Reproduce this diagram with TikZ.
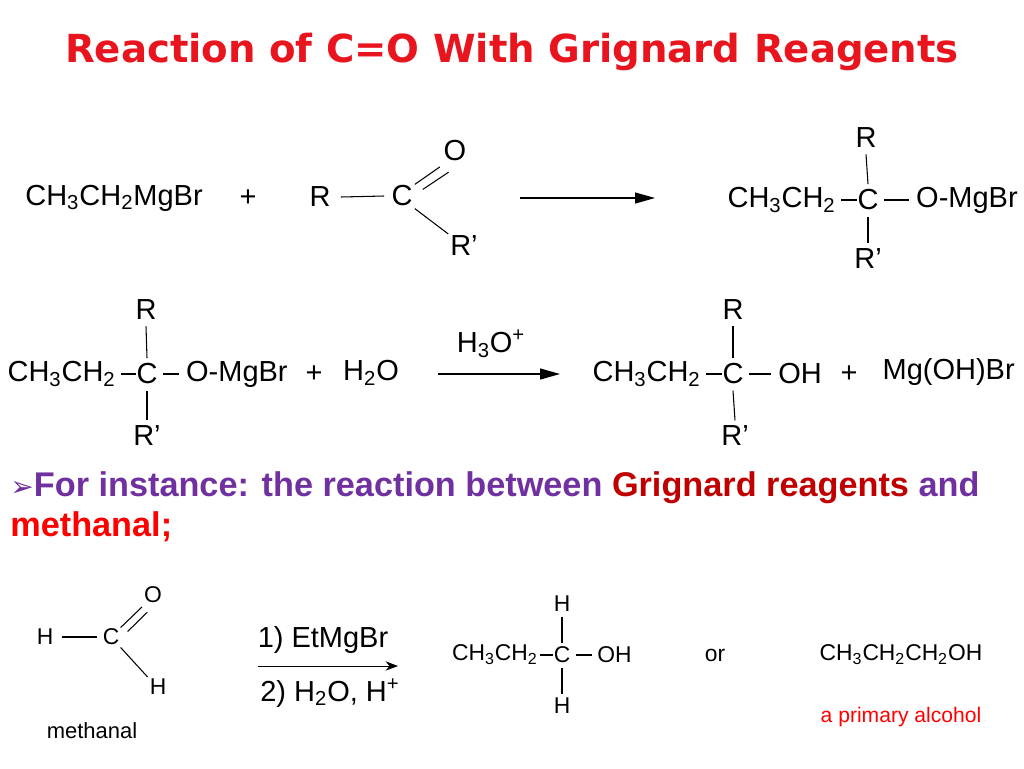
\documentclass[tikz,border=0pt]{standalone}
\usepackage{fontspec}
\setmainfont{Liberation Sans}
\newfontfamily\titlefont{DejaVu Sans}
\newfontfamily\symfont{DejaVu Sans}
\usepackage{tikz}
\usetikzlibrary{arrows.meta,positioning}
\definecolor{titlered}{HTML}{E8141E}
\definecolor{textpurple}{HTML}{7030A0}
\definecolor{darkred}{HTML}{C00000}
\tikzset{
  chem/.style={font=\fontsize{16.5}{19}\selectfont,inner sep=0pt},
  small/.style={font=\fontsize{13}{15}\selectfont,inner sep=0pt},
  bond/.style={line width=0.6pt},
  rxn/.style={line width=0.7pt,-{Triangle[length=4mm,width=2.2mm]}},
}
\newcommand{\sub}[1]{\textsubscript{#1}}
\begin{document}
\begin{tikzpicture}[x=0.02cm,y=-0.02cm]
  \useasboundingbox (0,0) rectangle (1024,768);
  \node[font=\titlefont\bfseries\fontsize{22}{26}\selectfont,text=titlered] (title) at (512,52) {Reaction of C=O With Grignard Reagents};
  % first reaction
  \node[chem,anchor=west] (grig) at (25,198) {CH\sub3CH\sub2MgBr};
  \node[chem] (plus1) at (248,198) {+};
  \node[chem] (r1) at (320,197) {R};
  \node[chem] (c1) at (402,196) {C};
  \node[chem] (o1) at (455,151) {O};
  \node[chem] (rp1) at (464,246) {R'};
  \draw[bond] (r1.east) ++(10,0) -- ([xshift=-4pt]c1.west);
  \draw[bond] (c1.north east) ++(2,-1) -- ([shift={(-2pt,-3pt)}]o1.south west);
  \draw[bond] (c1.north east) ++(10,4) -- ([shift={(3pt,-6pt)}]o1.south west);
  \draw[bond] (c1.south east) ++(2,2) -- ([shift={(-1pt,1pt)}]rp1.north west);
  \coordinate (a1s) at (520,198);
  \coordinate (a1e) at (655,198);
  \draw[rxn] (a1s) -- (a1e);
  \node[chem] (c2) at (868,200) {C};
  \node[chem,anchor=east] (et2) at (836,200) {CH\sub3CH\sub2};
  \node[chem,anchor=east] (omg2) at (1018,200) {O-MgBr};
  \node[chem] (r2) at (866,138) {R};
  \node[chem] (rp2) at (868,259) {R'};
  \draw[bond] (841,200) -- (c2.west);
  \draw[bond] (c2.east) ++(5,0) -- ([xshift=-4pt]omg2.west);
  \draw[bond] (r2.south) ++(0,6) -- ([yshift=3pt]c2.north);
  \draw[bond] (c2.south) ++(0,6) -- ([yshift=3pt]rp2.north);
  % second reaction
  \node[chem] (c3) at (147,374) {C};
  \node[chem,anchor=east] (et3) at (116,374) {CH\sub3CH\sub2};
  \node[chem,anchor=east] (omg3) at (288,374) {O-MgBr};
  \node[chem] (r3) at (146,310) {R};
  \node[chem] (rp3) at (147,436) {R'};
  \draw[bond] (121,374) -- (c3.west);
  \draw[bond] (c3.east) ++(5,0) -- ([xshift=-4pt]omg3.west);
  \draw[bond] (r3.south) ++(0,6) -- ([yshift=3pt]c3.north);
  \draw[bond] (c3.south) ++(0,6) -- ([yshift=3pt]rp3.north);
  \node[chem] (plus2) at (314,374) {+};
  \node[chem] (water) at (371,373) {H\sub2O};
  \node[chem] (cat) at (491,344) {H\sub3O\textsuperscript{+}};
  \coordinate (a2s) at (438,374);
  \coordinate (a2e) at (560,374);
  \draw[rxn] (a2s) -- (a2e);
  \node[chem] (c4) at (733,374) {C};
  \node[chem,anchor=east] (et4) at (701,374) {CH\sub3CH\sub2};
  \node[chem,anchor=west] (oh4) at (778,374) {OH};
  \node[chem] (r4) at (733,310) {R};
  \node[chem] (rp4) at (735,436) {R'};
  \draw[bond] (706,374) -- (c4.west);
  \draw[bond] (c4.east) ++(5,0) -- ([xshift=-4pt]oh4.west);
  \draw[bond] (r4.south) ++(0,6) -- ([yshift=3pt]c4.north);
  \draw[bond] (c4.south) ++(0,6) -- ([yshift=3pt]rp4.north);
  \node[chem] (plus3) at (849,374) {+};
  \node[chem,anchor=east] (mgohbr) at (1015,372) {Mg(OH)Br};
  % example text
  \node[anchor=west,inner sep=0pt,font=\bfseries\fontsize{19.5}{23}\selectfont,text=textpurple] (intro) at (10,488)
    {{\symfont\mdseries\fontsize{16}{18}\selectfont ➢}For instance: the reaction between \textcolor{darkred}{Grignard reagents} and};
  \node[anchor=west,inner sep=0pt,font=\bfseries\fontsize{19.5}{23}\selectfont,text=red] (intro2) at (10,527) {methanal;};
  % methanal
  \node[small] (h5) at (45,637) {H};
  \node[small] (c5) at (111,637) {C};
  \node[small] (o5) at (153,595) {O};
  \node[small] (h6) at (158,687) {H};
  \node[small,font=\fontsize{12.5}{14}\selectfont] (lab5) at (92,731) {methanal};
  \draw[bond] (h5.east) ++(8,0) -- ([xshift=-3pt]c5.west);
  \draw[bond] (c5.north east) ++(1,-1) -- ([shift={(-1pt,-2pt)}]o5.south west);
  \draw[bond] (c5.north east) ++(8,3) -- ([shift={(2pt,-5pt)}]o5.south west);
  \draw[bond] (c5.south east) ++(1,2) -- ([shift={(-1pt,1pt)}]h6.north west);
  \coordinate (a3s) at (258,666);
  \coordinate (a3e) at (398,666);
  \draw[line width=0.5pt,-{Stealth[length=2.5mm]}] (a3s) -- (a3e);
  \node[chem] (step1) at (323,640) {1) EtMgBr};
  \node[chem] (step2) at (330,693) {2) H\sub2O, H\textsuperscript{+}};
  \node[small] (c7) at (562,655) {C};
  \node[small,anchor=east] (et7) at (538,655) {CH\sub3CH\sub2};
  \node[small,anchor=west] (oh7) at (597,655) {OH};
  \node[small] (h7) at (562,604) {H};
  \node[small] (h8) at (562,706) {H};
  \draw[bond] (540,655) -- (c7.west);
  \draw[bond] (c7.east) ++(5,0) -- ([xshift=-3pt]oh7.west);
  \draw[bond] (h7.south) ++(0,5) -- ([yshift=2pt]c7.north);
  \draw[bond] (c7.south) ++(0,5) -- ([yshift=2pt]h8.north);
  \node[small] (or) at (715,655) {or};
  \node[small] (prop) at (901,655) {CH\sub3CH\sub2CH\sub2OH};
  \node[small,text=red,font=\fontsize{12}{14}\selectfont] (prim) at (901,717) {a primary alcohol};
\end{tikzpicture}
\end{document}
